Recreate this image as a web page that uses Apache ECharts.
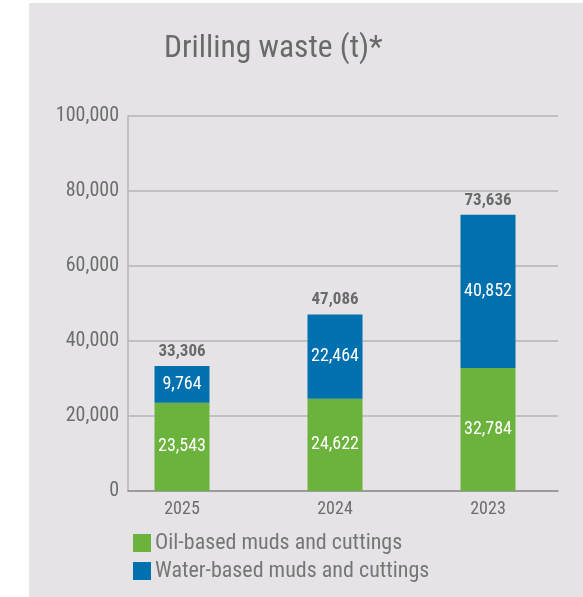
<!DOCTYPE html>
<html>
<head>
<meta charset="utf-8">
<script src="https://cdn.jsdelivr.net/npm/echarts@6/dist/echarts.min.js"></script>
<style>
  html, body { margin: 0; padding: 0; background: #ffffff; }
  #chart { width: 583px; height: 597px; }
</style>
</head>
<body>
<div id="chart"></div>
<script>
// Drilling waste by year, tonnes
const years = ['2025', '2024', '2023'];
const oilBased = [23543, 24622, 32784];
const waterBased = [9764, 22464, 40852];
const totals = [33306, 47086, 73636];
const yTicks = [0, 20000, 40000, 60000, 80000, 100000];

const FONT = '"Roboto Condensed", "DejaVu Sans Condensed", sans-serif';
const GREEN = '#6cb33e';
const BLUE = '#0070ae';
const fmt = v => Number(v).toLocaleString('en-US');

const chart = echarts.init(document.getElementById('chart'), null, { renderer: 'canvas' });

chart.setOption({
  animation: false,
  textStyle: { fontFamily: FONT },
  graphic: [{
    type: 'rect',
    z: -10,
    silent: true,
    shape: { x: 29, y: 3, width: 554, height: 594 },
    style: { fill: '#e5e3e6' }
  }],
  title: {
    text: 'Drilling waste (t)*',
    left: 164,
    top: 33,
    padding: 0,
    textStyle: { fontFamily: FONT, fontSize: 31.5, fontWeight: 'normal', color: '#6a6a6a' }
  },
  legend: {
    orient: 'vertical',
    left: 133,
    top: 532,
    padding: 0,
    itemWidth: 18,
    itemHeight: 18,
    itemGap: 6,
    icon: 'rect',
    data: ['Oil-based muds and cuttings', 'Water-based muds and cuttings'],
    textStyle: { fontFamily: FONT, fontSize: 22, color: '#767676', padding: [0, 0, 0, -1] }
  },
  grid: [
    // bars
    { left: 105.5, width: 459, top: 116, bottom: 106 },
    // value scale, gridlines and axis lines
    { left: 128, right: 25, top: 116, bottom: 106 }
  ],
  xAxis: [
    {
      type: 'category', gridIndex: 0, data: years,
      axisLine: { show: false }, axisTick: { show: false },
      axisLabel: { margin: 9, fontFamily: FONT, fontSize: 18, color: '#6d6d6d' }
    },
    {
      type: 'category', gridIndex: 1, data: years,
      axisLine: { show: true, lineStyle: { color: '#8e8e8e', width: 1.5 } },
      axisTick: { show: false }, axisLabel: { show: false }
    }
  ],
  yAxis: [
    {
      type: 'value', gridIndex: 0, min: 0, max: 100000, interval: 20000,
      show: false, splitLine: { show: false }
    },
    {
      type: 'value', gridIndex: 1, min: yTicks[0], max: yTicks[yTicks.length - 1], interval: 20000,
      axisLine: { show: true, lineStyle: { color: '#b4b4b4', width: 1.5 } },
      axisTick: { show: false },
      splitLine: { lineStyle: { color: '#b4b4b4', width: 1.5 } },
      axisLabel: { margin: 9, fontFamily: FONT, fontSize: 20, color: '#6d6d6d', formatter: fmt }
    }
  ],
  series: [
    {
      name: 'Oil-based muds and cuttings', type: 'bar', stack: 'waste',
      xAxisIndex: 0, yAxisIndex: 0, barWidth: 55, data: oilBased,
      itemStyle: { color: GREEN },
      label: { show: true, position: 'inside', color: '#ffffff', fontFamily: FONT, fontSize: 18, formatter: p => fmt(p.value) }
    },
    {
      name: 'Water-based muds and cuttings', type: 'bar', stack: 'waste',
      xAxisIndex: 0, yAxisIndex: 0, barWidth: 55, data: waterBased,
      itemStyle: { color: BLUE },
      label: { show: true, position: 'inside', color: '#ffffff', fontFamily: FONT, fontSize: 18, formatter: p => fmt(p.value) }
    },
    {
      name: 'Total', type: 'bar', barGap: '-100%',
      xAxisIndex: 0, yAxisIndex: 0, barWidth: 55, data: totals,
      itemStyle: { color: 'rgba(0,0,0,0)' }, z: 1, silent: true,
      label: { show: true, position: 'top', distance: 6, color: '#6a6a6a', fontFamily: FONT, fontSize: 17, fontWeight: 'bold', formatter: p => fmt(p.value) }
    }
  ]
});
</script>
</body>
</html>
